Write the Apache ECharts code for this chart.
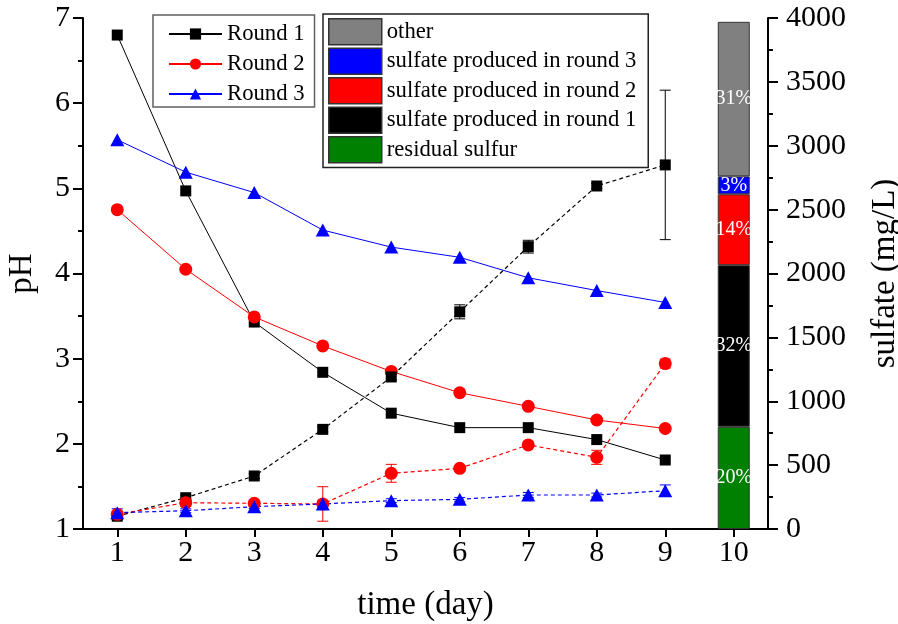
<!DOCTYPE html>
<html>
<head>
<meta charset="utf-8">
<script src="https://cdn.jsdelivr.net/npm/echarts@6/dist/echarts.min.js"></script>
<style>
html,body{margin:0;padding:0;background:#fff;}
#chart{width:898px;height:624px;}
</style>
</head>
<body>
<div id="chart"></div>
<script>
// ---- data ----
const days = ['1','2','3','4','5','6','7','8','9','10'];
const roundNames = ['Round 1','Round 2','Round 3'];

const phRound1 = [6.80, 4.97, 3.43, 2.84, 2.36, 2.19, 2.19, 2.05, 1.81];
const phRound2 = [4.75, 4.05, 3.49, 3.15, 2.85, 2.60, 2.44, 2.28, 2.18];
const phRound3 = [5.57, 5.19, 4.95, 4.51, 4.31, 4.19, 3.95, 3.80, 3.66];

const sulfateRound1 = [100, 245, 415, 780, 1190, 1700, 2210, 2685, 2850];
const sulfateRound2 = [115, 206, 201, 196, 436, 475, 658, 561, 1295];
const sulfateRound3 = [128, 143, 175, 196, 222, 232, 266, 266, 300];

const errRound1 = [25, 20, 20, 20, 25, 55, 50, 20, 585];
const errRound2 = [15, 30, 25, 135, 70, 20, 20, 55, 35];
const errRound3 = [30, 15, 15, 20, 15, 15, 20, 15, 45];

// stacked bar at day 10, bottom to top
const barNames = ['residual sulfur','sulfate produced in round 1','sulfate produced in round 2','sulfate produced in round 3','other'];
const barValues = [800, 1265, 555, 140, 1210];
const barPercentLabels = ['20%','32%','14%','3%','31%'];
const legendBarOrder = ['other','sulfate produced in round 3','sulfate produced in round 2','sulfate produced in round 1','residual sulfur'];

const phTicks = {min: 1, max: 7, interval: 1};
const sulfateTicks = {min: 0, max: 4000, interval: 500};

// ---- styles ----
const FONT = 'Liberation Serif';
const roundColors = ['#000000', '#ff0000', '#0000ff'];
const roundSymbols = ['rect', 'circle', 'triangle'];
const roundSymbolSizes = [11, 13, [14, 13]];
const barColors = ['#008000', '#000000', '#ff0000', '#0000ff', '#808080'];

const phData = [phRound1, phRound2, phRound3];
const sulData = [sulfateRound1, sulfateRound2, sulfateRound3];
const errData = [errRound1, errRound2, errRound3];

const series = [];

// pH solid lines
roundNames.forEach((name, r) => {
  series.push({
    name: name,
    type: 'line',
    xAxisIndex: 0, yAxisIndex: 0,
    data: phData[r],
    symbol: roundSymbols[r],
    symbolSize: roundSymbolSizes[r],
    itemStyle: {color: roundColors[r]},
    lineStyle: {color: roundColors[r], width: 1},
    animation: false,
    z: 3
  });
});

// error bars on sulfate
roundNames.forEach((name, r) => {
  const color = roundColors[r];
  series.push({
    name: name + ' sulfate err',
    type: 'custom',
    xAxisIndex: 0, yAxisIndex: 1,
    data: sulData[r].map((v, i) => [i, v - errData[r][i], v + errData[r][i]]),
    encode: {x: 0, y: [1, 2]},
    renderItem: function (params, api) {
      const x = api.value(0);
      const lo = api.coord([x, api.value(1)]);
      const hi = api.coord([x, api.value(2)]);
      const w = 5.5;
      const st = {stroke: color, lineWidth: 1, fill: null};
      return {
        type: 'group',
        children: [
          {type: 'line', shape: {x1: lo[0], y1: lo[1], x2: hi[0], y2: hi[1]}, style: st},
          {type: 'line', shape: {x1: lo[0] - w, y1: lo[1], x2: lo[0] + w, y2: lo[1]}, style: st},
          {type: 'line', shape: {x1: hi[0] - w, y1: hi[1], x2: hi[0] + w, y2: hi[1]}, style: st}
        ]
      };
    },
    animation: false,
    z: 4
  });
});

// sulfate dashed lines
roundNames.forEach((name, r) => {
  series.push({
    name: name + ' sulfate',
    type: 'line',
    xAxisIndex: 0, yAxisIndex: 1,
    data: sulData[r],
    symbol: roundSymbols[r],
    symbolSize: roundSymbolSizes[r],
    itemStyle: {color: roundColors[r]},
    lineStyle: {color: roundColors[r], width: 1.2, type: [4, 3]},
    animation: false,
    z: 5
  });
});

// stacked bar at day 10
barNames.forEach((name, b) => {
  series.push({
    name: name,
    type: 'bar',
    stack: 'sulfur',
    xAxisIndex: 0, yAxisIndex: 1,
    barWidth: 32,
    data: days.map((d, j) => (j === days.length - 1 ? barValues[b] : '-')),
    itemStyle: {color: barColors[b], borderColor: '#333', borderWidth: 1},
    label: {
      show: true,
      position: 'inside',
      formatter: () => barPercentLabels[b],
      color: '#fff',
      fontFamily: FONT,
      fontSize: 20
    },
    animation: false,
    z: 2
  });
});

const axisLabelStyle = {fontFamily: FONT, fontSize: 30, color: '#000'};
const axisNameStyle = {fontFamily: FONT, fontSize: 33, color: '#000'};

const option = {
  backgroundColor: '#fff',
  animation: false,
  textStyle: {fontFamily: FONT},
  grid: {left: 83, right: 130, top: 18, bottom: 95, containLabel: false, outerBoundsMode: 'none'},
  legend: [
    {
      data: roundNames,
      orient: 'vertical',
      left: 153, top: 15,
      padding: [7, 10, 1, 15],
      itemWidth: 53, itemHeight: 14,
      itemGap: 6,
      borderColor: '#606060', borderWidth: 1.5,
      backgroundColor: '#fff',
      textStyle: {fontFamily: FONT, fontSize: 22.7, color: '#000', lineHeight: 24}
    },
    {
      data: legendBarOrder,
      orient: 'vertical',
      left: 323, top: 14,
      padding: [4, 12, 4, 5],
      icon: 'rect',
      itemWidth: 53, itemHeight: 26,
      itemGap: 2,
      borderColor: '#222', borderWidth: 1.5,
      backgroundColor: '#fff',
      itemStyle: {borderColor: '#333', borderWidth: 1.5},
      textStyle: {fontFamily: FONT, fontSize: 22.7, color: '#000', lineHeight: 26}
    }
  ],
  xAxis: {
    type: 'category',
    data: days,
    boundaryGap: true,
    name: 'time (day)',
    nameLocation: 'middle',
    nameGap: 60,
    nameTextStyle: axisNameStyle,
    axisLine: {show: true, lineStyle: {color: '#000', width: 2}},
    axisTick: {show: true, alignWithLabel: true, length: 8, inside: false, lineStyle: {color: '#000', width: 2}},
    axisLabel: Object.assign({margin: 9}, axisLabelStyle),
    splitLine: {show: false}
  },
  yAxis: [
    {
      type: 'value',
      position: 'left',
      min: phTicks.min, max: phTicks.max, interval: phTicks.interval,
      name: 'pH',
      nameLocation: 'middle',
      nameGap: 44,
      nameRotate: 90,
      nameTextStyle: axisNameStyle,
      axisLine: {show: true, lineStyle: {color: '#000', width: 2}},
      axisTick: {show: true, length: 10, inside: false, lineStyle: {color: '#000', width: 2}},
      minorTick: {show: true, splitNumber: 2, length: 5, lineStyle: {color: '#000', width: 2}},
      axisLabel: Object.assign({margin: 13}, axisLabelStyle),
      splitLine: {show: false},
      minorSplitLine: {show: false}
    },
    {
      type: 'value',
      position: 'right',
      min: sulfateTicks.min, max: sulfateTicks.max, interval: sulfateTicks.interval,
      name: 'sulfate (mg/L)',
      nameLocation: 'middle',
      nameGap: 101,
      nameRotate: 90,
      nameTextStyle: axisNameStyle,
      axisLine: {show: true, lineStyle: {color: '#000', width: 2}},
      axisTick: {show: true, length: 10, inside: false, lineStyle: {color: '#000', width: 2}},
      minorTick: {show: true, splitNumber: 2, length: 5, lineStyle: {color: '#000', width: 2}},
      axisLabel: Object.assign({margin: 18, formatter: (v) => String(v)}, axisLabelStyle),
      splitLine: {show: false},
      minorSplitLine: {show: false}
    }
  ],
  series: series
};

const chart = echarts.init(document.getElementById('chart'), null, {renderer: 'canvas'});
chart.setOption(option);
</script>
</body>
</html>
